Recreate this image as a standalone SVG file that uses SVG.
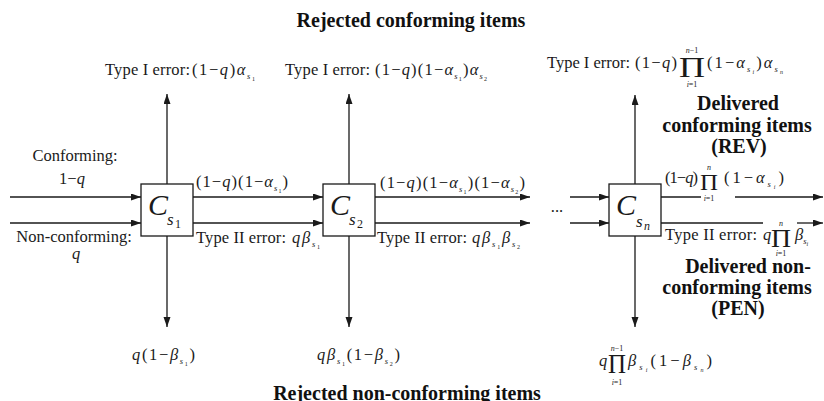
<svg xmlns="http://www.w3.org/2000/svg" width="824" height="401" viewBox="0 0 824 401">
<defs>
<style>
.f{font-family:"Liberation Serif","Times New Roman",serif;font-size:16.5px;fill:#1a1a1a}
.it{font-style:italic}
.ss{font-style:italic;font-size:8.5px}
.sd{font-size:6px}
.lim{font-family:"Liberation Serif","Times New Roman",serif;font-size:8px;fill:#1a1a1a;text-anchor:middle}
.prod{font-family:"Liberation Serif","Times New Roman",serif;fill:#1a1a1a}
.b{font-family:"Liberation Serif","Times New Roman",serif;font-size:20px;font-weight:bold;fill:#111;text-anchor:middle}
.mid{text-anchor:middle}
.box{fill:#fff;stroke:#1a1a1a;stroke-width:1.3}
.C{font-family:"Liberation Serif","Times New Roman",serif;font-style:italic;font-size:30px;fill:#1a1a1a}
.cs{font-family:"Liberation Serif","Times New Roman",serif;font-style:italic;font-size:17px;fill:#1a1a1a}
.cd{font-family:"Liberation Serif","Times New Roman",serif;font-size:12px;fill:#1a1a1a}
.ln{stroke:#1a1a1a;stroke-width:1.3;fill:none}
.ar{marker-end:url(#ah)}
</style>
<marker id="ah" markerUnits="userSpaceOnUse" markerWidth="10" markerHeight="8" refX="10" refY="3.5" orient="auto">
<path d="M0,0 L10,3.5 L0,7 z" fill="#1a1a1a"/>
</marker>
</defs>
<rect width="824" height="401" fill="#fff"/>

<g id="connectors">
<line class="ln ar" x1="10" y1="197" x2="141" y2="197"/>
<line class="ln ar" x1="10" y1="223" x2="141" y2="223"/>
<line class="ln ar" x1="193" y1="197" x2="323" y2="197"/>
<line class="ln ar" x1="193" y1="223" x2="323" y2="223"/>
<line class="ln ar" x1="375" y1="197" x2="530" y2="197"/>
<line class="ln ar" x1="375" y1="223" x2="530" y2="223"/>
<line class="ln ar" x1="570" y1="197" x2="609" y2="197"/>
<line class="ln ar" x1="570" y1="223" x2="609" y2="223"/>
<line class="ln" x1="661" y1="197" x2="701" y2="197"/>
<line class="ln ar" x1="735" y1="197" x2="823" y2="197"/>
<line class="ln" x1="661" y1="223" x2="763" y2="223"/>
<line class="ln ar" x1="797" y1="223" x2="823" y2="223"/>
<line class="ln ar" x1="167" y1="184" x2="167" y2="94"/>
<line class="ln ar" x1="167" y1="236" x2="167" y2="327"/>
<line class="ln ar" x1="349" y1="184" x2="349" y2="94"/>
<line class="ln ar" x1="349" y1="236" x2="349" y2="327"/>
<line class="ln ar" x1="635" y1="184" x2="635" y2="95"/>
<line class="ln ar" x1="635" y1="236" x2="635" y2="327"/>
</g>

<g id="node-cs1">
<rect class="box" x="141" y="184" width="52" height="52"/>
<text class="C" x="148" y="215">C</text><text class="cs" x="167" y="225">s</text><text class="cd" x="175" y="228">1</text>
</g>
<g id="node-cs2">
<rect class="box" x="323" y="184" width="52" height="52"/>
<text class="C" x="330" y="215">C</text><text class="cs" x="349" y="225">s</text><text class="cd" x="357" y="228">2</text>
</g>
<g id="node-csn">
<rect class="box" x="609" y="184" width="52" height="52"/>
<text class="C" x="616" y="215">C</text><text class="cs" x="636" y="227">s</text><text class="cd it" x="644" y="230">n</text>
</g>

<g id="labels">
<text class="b" x="411" y="27">Rejected conforming items</text>
<text class="b" x="407" y="400">Rejected non-conforming items</text>
<text class="b" x="738" y="110">Delivered</text>
<text class="b" x="737" y="132">conforming items</text>
<text class="b" x="739" y="153">(REV)</text>
<text class="b" x="748" y="273">Delivered non-</text>
<text class="b" x="737" y="294">conforming items</text>
<text class="b" x="738" y="315">(PEN)</text>

<text class="f mid" x="75" y="161">Conforming:</text>
<text class="f mid" x="72" y="184">1−<tspan class="it">q</tspan></text>
<text class="f mid" x="74" y="242">Non-conforming:</text>
<text class="f mid it" x="76" y="259">q</text>
<text class="f mid" x="557" y="212">...</text>

<text class="f" x="105" y="75" textLength="85">Type I error:</text>
<text class="f" x="192" y="75" textLength="63">(1−<tspan class="it">q</tspan>)<tspan class="it">α</tspan><tspan class="ss" dy="4">s</tspan><tspan class="sd" dy="1.5">1</tspan></text>

<text class="f" x="285" y="75" textLength="85">Type I error:</text>
<text class="f" x="375" y="75" textLength="112">(1−<tspan class="it">q</tspan>)(1−<tspan class="it">α</tspan><tspan class="ss" dy="4">s</tspan><tspan class="sd" dy="1.5">1</tspan><tspan dy="-5.5">)</tspan><tspan class="it">α</tspan><tspan class="ss" dy="4">s</tspan><tspan class="sd" dy="1.5">2</tspan></text>

<text class="f" x="547" y="68" textLength="83">Type I error:</text>
<text class="f" x="635" y="68" textLength="42">(1−<tspan class="it">q</tspan>)</text>
<text class="prod" x="679" y="77" font-size="30" textLength="26" lengthAdjust="spacingAndGlyphs">Π</text>
<text class="lim" x="692" y="53"><tspan class="it">n</tspan>−1</text>
<text class="lim" x="692" y="87"><tspan class="it">i</tspan>=1</text>
<text class="f" x="707" y="68" textLength="76">(1−<tspan class="it">α</tspan><tspan class="ss" dy="4">s</tspan><tspan class="sd it" dy="1.5">i</tspan><tspan dy="-5.5">)</tspan><tspan class="it">α</tspan><tspan class="ss" dy="4">s</tspan><tspan class="sd it" dy="1.5">n</tspan></text>

<text class="f" x="196" y="187" textLength="92">(1−<tspan class="it">q</tspan>)(1−<tspan class="it">α</tspan><tspan class="ss" dy="4">s</tspan><tspan class="sd" dy="1.5">1</tspan><tspan dy="-5.5">)</tspan></text>
<text class="f" x="196" y="243" textLength="90">Type II error:</text>
<text class="f" x="292" y="243" textLength="28"><tspan class="it">qβ</tspan><tspan class="ss" dy="4">s</tspan><tspan class="sd" dy="1.5">1</tspan></text>

<text class="f" x="380" y="188" textLength="145">(1−<tspan class="it">q</tspan>)(1−<tspan class="it">α</tspan><tspan class="ss" dy="4">s</tspan><tspan class="sd" dy="1.5">1</tspan><tspan dy="-5.5">)(1−</tspan><tspan class="it">α</tspan><tspan class="ss" dy="4">s</tspan><tspan class="sd" dy="1.5">2</tspan><tspan dy="-5.5">)</tspan></text>
<text class="f" x="377" y="243" textLength="90">Type II error:</text>
<text class="f" x="472" y="243" textLength="48"><tspan class="it">qβ</tspan><tspan class="ss" dy="4">s</tspan><tspan class="sd" dy="1.5">1</tspan><tspan class="it" dy="-5.5">β</tspan><tspan class="ss" dy="4">s</tspan><tspan class="sd" dy="1.5">2</tspan></text>

<text class="f" x="665" y="183" textLength="33">(1−<tspan class="it">q</tspan>)</text>
<text class="prod" x="700" y="190" font-size="24" textLength="18" lengthAdjust="spacingAndGlyphs">Π</text>
<text class="lim" x="709" y="170" font-size="7"><tspan class="it">n</tspan></text>
<text class="lim" x="709" y="201" font-size="7"><tspan class="it">i</tspan>=1</text>
<text class="f" x="724" y="183" textLength="60">(1−<tspan class="it">α</tspan><tspan class="ss" dy="4">s</tspan><tspan class="sd it" dy="1.5">i</tspan><tspan dy="-5.5">)</tspan></text>

<text class="f" x="665" y="240" textLength="92">Type II error:</text>
<text class="f it" x="763" y="240">q</text>
<text class="prod" x="771" y="247" font-size="25" textLength="20" lengthAdjust="spacingAndGlyphs">Π</text>
<text class="lim" x="781" y="226" font-size="7"><tspan class="it">n</tspan></text>
<text class="lim" x="781" y="256" font-size="7"><tspan class="it">i</tspan>=1</text>
<text class="f" x="795" y="240"><tspan class="it">β</tspan><tspan class="ss" dy="4">s</tspan><tspan class="sd it" dy="1.5">i</tspan></text>

<text class="f" x="132" y="360" textLength="63"><tspan class="it">q</tspan>(1−<tspan class="it">β</tspan><tspan class="ss" dy="4">s</tspan><tspan class="sd" dy="1.5">1</tspan><tspan dy="-5.5">)</tspan></text>
<text class="f" x="317" y="360" textLength="83"><tspan class="it">qβ</tspan><tspan class="ss" dy="4">s</tspan><tspan class="sd" dy="1.5">1</tspan><tspan dy="-5.5">(1−</tspan><tspan class="it">β</tspan><tspan class="ss" dy="4">s</tspan><tspan class="sd" dy="1.5">2</tspan><tspan dy="-5.5">)</tspan></text>

<text class="f it" x="599" y="366">q</text>
<text class="prod" x="608" y="373" font-size="27" textLength="18" lengthAdjust="spacingAndGlyphs">Π</text>
<text class="lim" x="617" y="351" font-size="7"><tspan class="it">n</tspan>−1</text>
<text class="lim" x="617" y="385" font-size="7"><tspan class="it">i</tspan>=1</text>
<text class="f" x="628" y="366" textLength="84"><tspan class="it">β</tspan><tspan class="ss" dy="4">s</tspan><tspan class="sd it" dy="1.5">i</tspan><tspan dy="-5.5">(1−</tspan><tspan class="it">β</tspan><tspan class="ss" dy="4">s</tspan><tspan class="sd it" dy="1.5">n</tspan><tspan dy="-5.5">)</tspan></text>
</g>
</svg>
